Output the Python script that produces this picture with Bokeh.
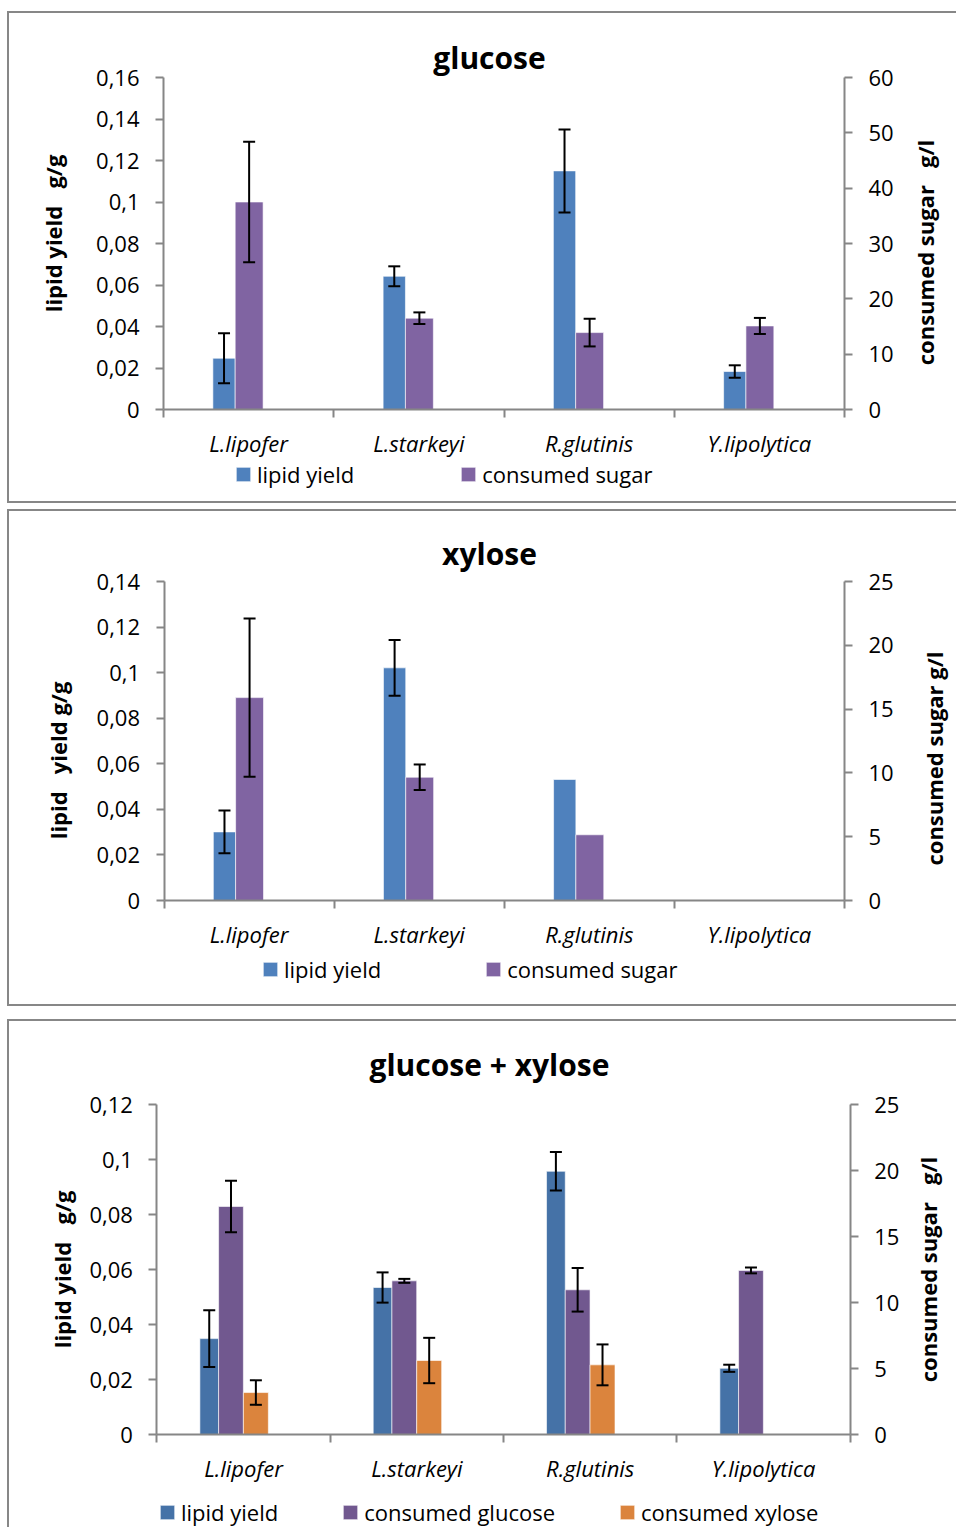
import math
from bokeh.plotting import figure
from bokeh.models import (Range1d, LinearAxis, FixedTicker, CustomJSTickFormatter,
                          ColumnDataSource, Whisker, TeeHead, Legend, LegendItem, Label)
from bokeh.layouts import column
from bokeh.embed import file_html
from bokeh.resources import INLINE

# ---------------- data ----------------
species = ["L.lipofer", "L.starkeyi", "R.glutinis", "Y.lipolytica"]

# glucose
glu_lipid = [0.0247, 0.0642, 0.1150, 0.0183]
glu_lipid_err = [0.0120, 0.0048, 0.0200, 0.0030]
glu_sugar = [37.5, 16.5, 13.9, 15.1]
glu_sugar_err = [10.9, 1.05, 2.5, 1.45]
glu_left_ticks = [0, 0.02, 0.04, 0.06, 0.08, 0.10, 0.12, 0.14, 0.16]
glu_right_ticks = [0, 10, 20, 30, 40, 50, 60]

# xylose
xyl_lipid = [0.0301, 0.1021, 0.0531, 0.0]
xyl_lipid_err = [0.0094, 0.0122, 0.0, 0.0]
xyl_sugar = [15.9, 9.66, 5.15, 0.0]
xyl_sugar_err = [6.2, 1.0, 0.0, 0.0]
xyl_left_ticks = [0, 0.02, 0.04, 0.06, 0.08, 0.10, 0.12, 0.14]
xyl_right_ticks = [0, 5, 10, 15, 20, 25]

# glucose + xylose
mix_lipid = [0.0349, 0.0535, 0.0958, 0.0241]
mix_lipid_err = [0.0103, 0.0055, 0.0070, 0.0013]
mix_glucose = [17.29, 11.65, 10.97, 12.44]
mix_glucose_err = [1.96, 0.15, 1.65, 0.22]
mix_xylose = [3.18, 5.61, 5.28, 0.0]
mix_xylose_err = [0.93, 1.72, 1.55, 0.0]
mix_left_ticks = [0, 0.02, 0.04, 0.06, 0.08, 0.10, 0.12]
mix_right_ticks = [0, 5, 10, 15, 20, 25]

# ---------------- style ----------------
FONT = "Open Sans"
AXIS_GREY = "#868686"
BORDER = "2px solid #878787"
NB = "\u00a0"

fmt = CustomJSTickFormatter(code="return String(Math.round(tick*1000)/1000).replace('.', ',');")


def make_panel(title, series, left_ticks, right_ticks, left_label, right_label,
               canvas, plot_box, title_at, left_at, right_at, legend_loc, legend_spacing):
    """canvas = (page_left, page_top, width, height);
    plot_box = page x of category 0 / category 4 edges, page y of zero / top tick."""
    cl, ct, cw, chh = canvas
    px0, px4, py0, pytop = plot_box
    ymax, rmax = left_ticks[-1], right_ticks[-1]
    X = lambda px: (px - px0) * len(species) / (px4 - px0)
    Y = lambda py: (py0 - py) * ymax / (py0 - pytop)

    p = figure(width=cw, height=chh, title=None,
               x_range=Range1d(X(cl), X(cl + cw)), y_range=Range1d(Y(ct + chh), Y(ct)),
               x_axis_location=None, y_axis_location=None, min_border=0,
               output_backend="svg", toolbar_location=None)
    p.extra_y_ranges = {"sugar": Range1d(Y(ct + chh) * rmax / ymax, Y(ct) * rmax / ymax)}
    p.xgrid.visible = False
    p.ygrid.visible = False
    p.outline_line_color = None
    p.background_fill_color = "white"
    p.border_fill_color = "white"

    # category axis on the zero line, ticks at category boundaries
    centers = [i + 0.5 for i in range(len(species))]
    xa = LinearAxis(fixed_location=0, bounds=(0, len(species)),
                    ticker=FixedTicker(ticks=centers,
                                       minor_ticks=list(range(len(species) + 1))))
    xa.major_label_overrides = {c: s for c, s in zip(centers, species)}
    xa.major_tick_out = 0
    xa.major_tick_in = 0
    xa.minor_tick_out = 8
    xa.minor_tick_in = 0
    xa.minor_tick_line_color = AXIS_GREY
    xa.minor_tick_line_width = 2
    xa.axis_line_color = AXIS_GREY
    xa.axis_line_width = 2
    xa.major_label_text_font = FONT
    xa.major_label_text_font_style = "italic"
    xa.major_label_text_font_size = "22px"
    xa.major_label_text_color = "black"
    xa.major_label_standoff = 10
    p.add_layout(xa, "below")

    # value axes
    ya = LinearAxis(fixed_location=0, bounds=(0, ymax), ticker=FixedTicker(ticks=left_ticks),
                    formatter=fmt)
    p.add_layout(ya, "left")
    ra = LinearAxis(fixed_location=len(species), bounds=(0, rmax), y_range_name="sugar",
                    ticker=FixedTicker(ticks=right_ticks))
    p.add_layout(ra, "right")
    for ax in (ya, ra):
        ax.major_tick_out = 8
        ax.major_tick_in = 0
        ax.minor_tick_out = 0
        ax.minor_tick_in = 0
        ax.major_tick_line_color = AXIS_GREY
        ax.major_tick_line_width = 2
        ax.axis_line_color = AXIS_GREY
        ax.axis_line_width = 2
        ax.major_label_text_font = FONT
        ax.major_label_text_font_size = "22px"
        ax.major_label_text_color = "black"
        ax.major_label_standoff = 16

    items = []
    for s in series:
        lf, rf = s["span"]
        xs = [i + (lf + rf) / 2 for i in range(len(species))]
        rng = "sugar" if s["axis"] == "sugar" else "default"
        src = ColumnDataSource(dict(x=xs, top=s["values"]))
        r = p.vbar(x="x", top="top", width=rf - lf, source=src, y_range_name=rng,
                   fill_color=s["color"], line_color="white", line_alpha=0.6, line_width=1)
        items.append(LegendItem(label=s["label"], renderers=[r]))
        ex = [x for x, e in zip(xs, s["errs"]) if e > 0]
        up = [v + e for v, e in zip(s["values"], s["errs"]) if e > 0]
        lo = [v - e for v, e in zip(s["values"], s["errs"]) if e > 0]
        if ex:
            wsrc = ColumnDataSource(dict(base=ex, upper=up, lower=lo))
            w = Whisker(source=wsrc, base="base", upper="upper", lower="lower",
                        y_range_name=rng, line_color="black", line_width=2, level="overlay",
                        upper_head=TeeHead(size=12, line_color="black", line_width=2),
                        lower_head=TeeHead(size=12, line_color="black", line_width=2))
            p.add_layout(w)

    legend = Legend(items=items, orientation="horizontal", location=legend_loc,
                    glyph_width=18, glyph_height=18, label_standoff=5,
                    spacing=legend_spacing, padding=0, margin=0,
                    border_line_color=None, background_fill_alpha=0,
                    label_text_font=FONT, label_text_font_size="22px",
                    label_text_color="black")
    p.add_layout(legend)

    # chart title and the two axis titles
    p.add_layout(Label(x=X(title_at[0]), y=Y(title_at[1]), text=title,
                       text_align="center", text_baseline="middle",
                       text_font=FONT, text_font_style="bold", text_font_size="30px",
                       text_color="black"))
    for txt, at in ((left_label, left_at), (right_label, right_at)):
        p.add_layout(Label(x=X(at[0]), y=Y(at[1]), text=txt, angle=math.pi / 2,
                           text_align="center", text_baseline="middle",
                           text_font=FONT, text_font_style="bold", text_font_size="22px",
                           text_color="black"))
    return p


BLUE1, PURPLE1 = "#4F81BD", "#8064A2"
BLUE3, PURPLE3, ORANGE3 = "#4572A7", "#71588F", "#DB843D"

p1 = make_panel(
    "glucose",
    [dict(values=glu_lipid, errs=glu_lipid_err, color=BLUE1, axis="lipid",
          span=(0.290, 0.421), label="lipid yield"),
     dict(values=glu_sugar, errs=glu_sugar_err, color=PURPLE1, axis="sugar",
          span=(0.421, 0.585), label="consumed sugar")],
    glu_left_ticks, glu_right_ticks,
    "lipid yield" + NB * 3 + "g/g", "consumed sugar" + NB * 3 + "g/l",
    canvas=(9, 13, 949, 492), plot_box=(163, 844, 409, 77),
    title_at=(489, 57), left_at=(52, 233), right_at=(924, 252),
    legend_loc=(225, 16), legend_spacing=105)
p1.styles = {"border-top": BORDER, "border-left": BORDER, "border-bottom": BORDER}
p1.margin = (11, 0, 0, 7)

p2 = make_panel(
    "xylose",
    [dict(values=xyl_lipid, errs=xyl_lipid_err, color=BLUE1, axis="lipid",
          span=(0.290, 0.421), label="lipid yield"),
     dict(values=xyl_sugar, errs=xyl_sugar_err, color=PURPLE1, axis="sugar",
          span=(0.421, 0.585), label="consumed sugar")],
    xyl_left_ticks, xyl_right_ticks,
    "lipid" + NB * 3 + "yield g/g", "consumed sugar g/l",
    canvas=(9, 511, 949, 497), plot_box=(163.5, 844, 900, 581),
    title_at=(489, 553), left_at=(57, 760), right_at=(933, 758),
    legend_loc=(252, 24), legend_spacing=103)
p2.styles = {"border-top": BORDER, "border-left": BORDER, "border-bottom": BORDER}
p2.margin = (6, 0, 0, 7)

p3 = make_panel(
    "glucose + xylose",
    [dict(values=mix_lipid, errs=mix_lipid_err, color=BLUE3, axis="lipid",
          span=(0.248, 0.356), label="lipid yield"),
     dict(values=mix_glucose, errs=mix_glucose_err, color=PURPLE3, axis="sugar",
          span=(0.356, 0.499), label="consumed glucose"),
     dict(values=mix_xylose, errs=mix_xylose_err, color=ORANGE3, axis="sugar",
          span=(0.499, 0.643), label="consumed xylose")],
    mix_left_ticks, mix_right_ticks,
    "lipid yield" + NB * 3 + "g/g", "consumed sugar" + NB * 3 + "g/l",
    canvas=(9, 1021, 949, 508), plot_box=(156.4, 849.7, 1434, 1104.3),
    title_at=(489, 1064), left_at=(61, 1269), right_at=(927, 1269),
    legend_loc=(149, 2), legend_spacing=63)
p3.styles = {"border-top": BORDER, "border-left": BORDER}
p3.margin = (13, 0, 0, 7)

layout = column(p1, p2, p3)
open("out.html", "w").write(file_html(layout, INLINE))
